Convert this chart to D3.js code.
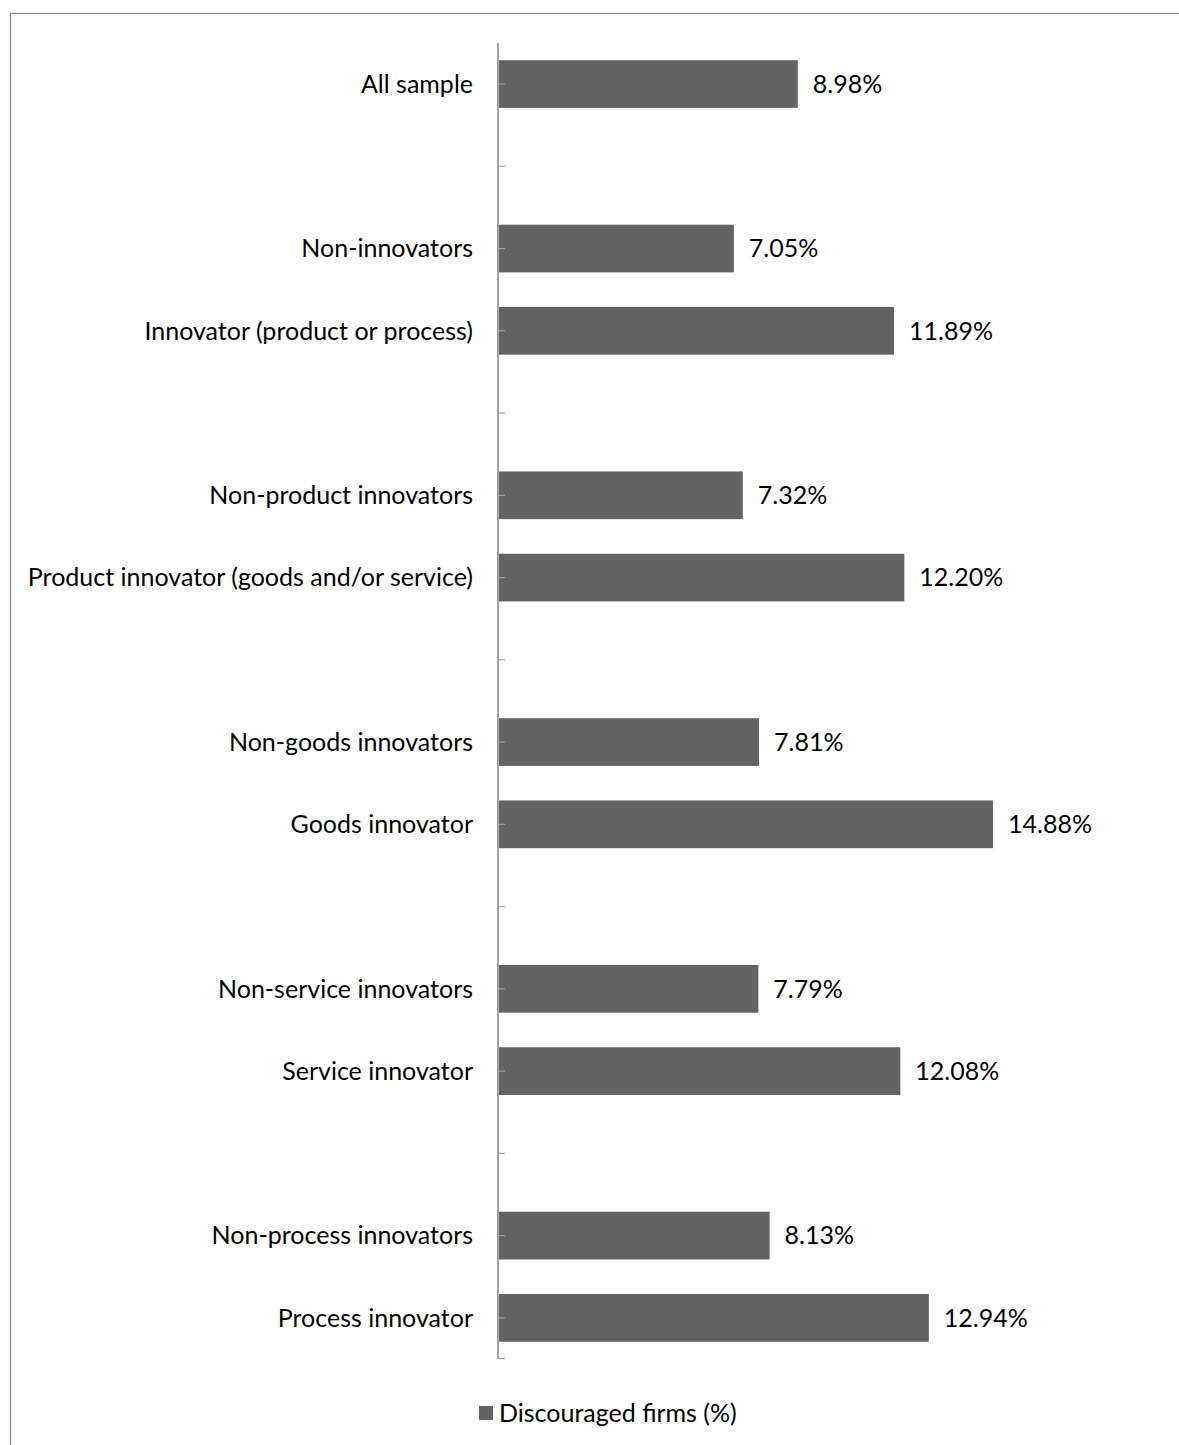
<!DOCTYPE html>
<html><head><meta charset="utf-8">
<script src="https://cdn.jsdelivr.net/npm/d3@7"></script>
<style>html,body{margin:0;padding:0;background:#fff;}svg{display:block;}</style>
</head><body>
<script>
const categories = ["All sample", "", "Non-innovators", "Innovator (product or process)", "",
  "Non-product innovators", "Product innovator (goods and/or service)", "",
  "Non-goods innovators", "Goods innovator", "",
  "Non-service innovators", "Service innovator", "",
  "Non-process innovators", "Process innovator"];
const values = [8.98, null, 7.05, 11.89, null, 7.32, 12.20, null, 7.81, 14.88, null, 7.79, 12.08, null, 8.13, 12.94];
const seriesName = "Discouraged firms (%)";

const W = 1179, H = 1445;
const font = "Lato, 'Open Sans', sans-serif";
const fs = 25;
const svg = d3.select("body").append("svg").attr("width", W).attr("height", H);

svg.append("rect").attr("x", 10.5).attr("y", 13.5).attr("width", 1300).attr("height", 1600)
  .attr("fill", "none").attr("stroke", "#8c8c8c").attr("stroke-width", 1.3);

const idx = categories.map((c, i) => i);
const y = d3.scaleBand().domain(idx).range([42.9, 1359]).paddingInner(0.42).paddingOuter(0.21);
const x = d3.scaleLinear().domain([0, 16]).range([500.5, 500.5 + 16 * 33.1]);
const axisX = 498;

const data = idx.map(i => ({i, label: categories[i], v: values[i]}));

// bars
svg.append("g").selectAll("rect").data(data.filter(d => d.v != null)).join("rect")
  .attr("x", axisX + 1).attr("y", d => y(d.i)).attr("width", d => x(d.v) - (axisX + 1))
  .attr("height", y.bandwidth()).attr("fill", "#636363");

// axis
const ax = svg.append("g");
ax.append("line").attr("x1", axisX).attr("x2", axisX).attr("y1", 42.9).attr("y2", 1359)
  .attr("stroke", "#868686").attr("stroke-width", 1.5);
const tickYs = idx.map(i => y(i) + y.bandwidth() / 2).concat([1358.5]);
ax.selectAll("line.t").data(tickYs).join("line").attr("class", "t")
  .attr("x1", axisX).attr("x2", axisX + 7).attr("y1", d => d).attr("y2", d => d)
  .attr("stroke", "#a0a0a0").attr("stroke-width", 1.2);

// category labels
svg.append("g").selectAll("text").data(data.filter(d => d.label)).join("text")
  .attr("x", 473).attr("y", d => y(d.i) + y.bandwidth() / 2).attr("dy", "0.35em")
  .attr("text-anchor", "end").attr("font-family", font).attr("font-size", fs).attr("fill", "#000")
  .text(d => d.label);

// value labels
const fmt = d3.format(".2f");
svg.append("g").selectAll("text").data(data.filter(d => d.v != null)).join("text")
  .attr("x", d => x(d.v) + 15).attr("y", d => y(d.i) + y.bandwidth() / 2).attr("dy", "0.35em")
  .attr("font-family", font).attr("font-size", fs).attr("fill", "#000")
  .text(d => fmt(d.v) + "%");

// legend
const lg = svg.append("g");
lg.append("rect").attr("x", 479).attr("y", 1406).attr("width", 14).attr("height", 14).attr("fill", "#636363");
lg.append("text").attr("x", 499).attr("y", 1413.5).attr("dy", "0.35em")
  .attr("font-family", font).attr("font-size", fs).attr("fill", "#000").text(seriesName);
</script>
</body></html>
